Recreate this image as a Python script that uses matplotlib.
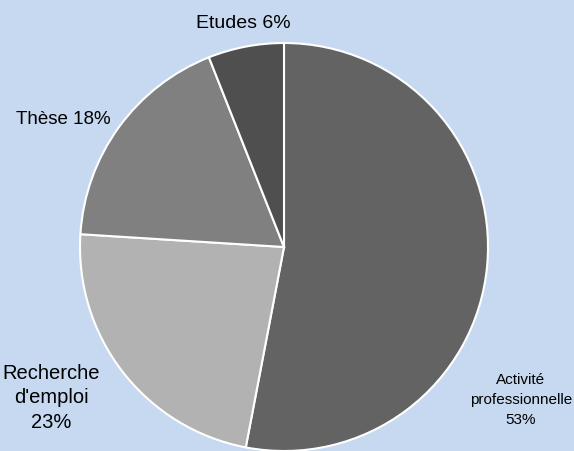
import matplotlib

matplotlib.use("Agg")
import matplotlib.pyplot as plt

labels = ["Activité\nprofessionnelle\n53%", "Recherche\nd'emploi\n23%", "Thèse 18%", "Etudes 6%"]
values = [53, 23, 18, 6]
colors = ["#636363", "#b2b2b2", "#808080", "#4f4f4f"]
BG = "#c6d9f0"

W, H = 574, 452
fig = plt.figure(figsize=(W / 100, H / 100), dpi=100, facecolor=BG)
# pie area in pixels: x 80..488, y 44..452 (top-down)
ax = fig.add_axes([80 / W, 0, 408 / W, 408 / H])
ax.set_facecolor(BG)
ax.pie(values, colors=colors, startangle=90, counterclock=False, radius=1,
       wedgeprops=dict(edgecolor="white", linewidth=1.5))
ax.set_xlim(-1, 1)
ax.set_ylim(-1, 1)
ax.set_aspect("auto")
ax.axis("off")

fam = ["Liberation Sans", "DejaVu Sans"]
# label centres in pixel coordinates (x, y from top), font size, line spacing
pos = [(521, 400, 11, 1.55), (51, 398, 14.5, 1.38), (63, 119, 13.5, 1.2), (243, 24, 14, 1.2)]
for lab, (px, py, fs, ls) in zip(labels, pos):
    fig.text(px / W, 1 - py / H, lab, ha="center", va="center", fontsize=fs,
             family=fam, linespacing=ls, color="black")

fig.savefig("out.png", dpi=100, facecolor=BG)
